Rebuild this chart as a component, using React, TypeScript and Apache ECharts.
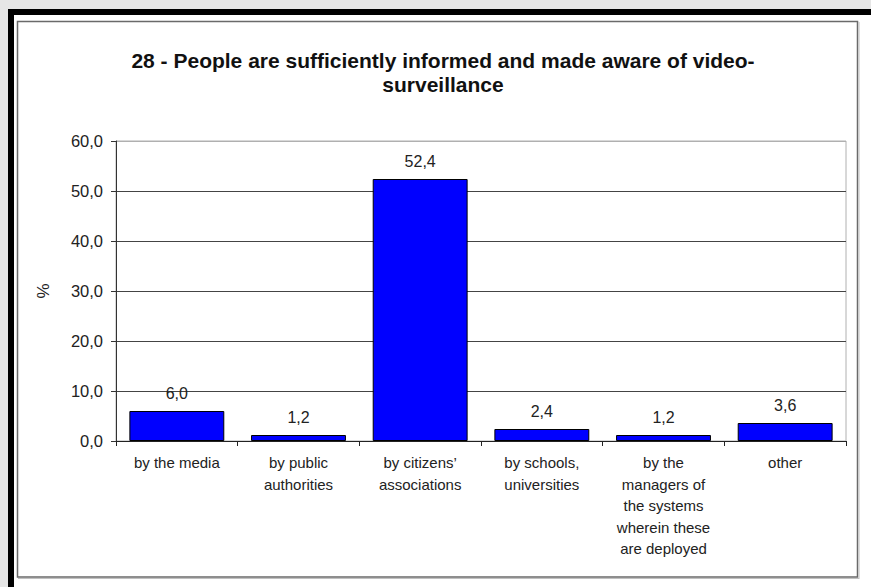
import React, { useEffect, useRef } from "react";
import * as echarts from "echarts";

const categories = [
  "by the media",
  "by public\nauthorities",
  "by citizens’\nassociations",
  "by schools,\nuniversities",
  "by the\nmanagers of\nthe systems\nwherein these\nare deployed",
  "other",
];
const values = [6.0, 1.2, 52.4, 2.4, 1.2, 3.6];
const titleText = "28 - People are sufficiently informed and made aware of video-\nsurveillance";
const yAxisName = "%";

const FONT = "'Liberation Sans', Arial, Helvetica, sans-serif";
const fmt = (v: number) => v.toFixed(1).replace(".", ",");

export default function App() {
  const ref = useRef<HTMLDivElement>(null);
  useEffect(() => {
    if (!ref.current) return;
    const chart = echarts.init(ref.current, undefined, { renderer: "svg" });
    chart.setOption({
      animation: false,
      backgroundColor: "#ffffff",
      textStyle: { fontFamily: FONT },
      title: {
        text: titleText,
        left: 438,
        textAlign: "center",
        top: 43,
        textStyle: {
          fontFamily: FONT,
          fontSize: 21,
          fontWeight: "bold",
          color: "#111",
          lineHeight: 24,
        },
      },
      graphic: [
        { type: "rect", shape: { x: 0, y: 0, width: 871, height: 9 }, style: { fill: "#e6e6e6" }, silent: true },
        { type: "rect", shape: { x: 0, y: 0, width: 8, height: 587 }, style: { fill: "#e6e6e6" }, silent: true },
        { type: "rect", shape: { x: 8, y: 9, width: 863, height: 6 }, style: { fill: "#000" }, silent: true },
        { type: "rect", shape: { x: 8, y: 9, width: 6, height: 578 }, style: { fill: "#000" }, silent: true },
        { type: "rect", shape: { x: 17.5, y: 21.5, width: 840, height: 555.5 }, style: { fill: "none", stroke: "#6a6a6a", lineWidth: 1.5 }, silent: true },
        { type: "line", shape: { x1: 18, y1: 578.5, x2: 859, y2: 578.5 }, style: { stroke: "#c0c0c0", lineWidth: 1 }, silent: true },
        { type: "line", shape: { x1: 859, y1: 22, x2: 859, y2: 579 }, style: { stroke: "#c0c0c0", lineWidth: 1 }, silent: true },
      ],
      grid: {
        left: 116,
        top: 141,
        right: 25,
        bottom: 146,
        show: true,
        borderColor: "#b0b0b0",
        borderWidth: 1,
        backgroundColor: "transparent",
      },
      xAxis: {
        type: "category",
        data: categories,
        boundaryGap: true,
        axisLine: { lineStyle: { color: "#222", width: 1 } },
        axisTick: { show: true, length: 5, lineStyle: { color: "#222" } },
        axisLabel: {
          interval: 0,
          margin: 11,
          fontSize: 15,
          lineHeight: 21.5,
          color: "#222",
          fontFamily: FONT,
        },
      },
      yAxis: {
        type: "value",
        min: 0,
        max: 60,
        interval: 10,
        name: yAxisName,
        nameLocation: "middle",
        nameRotate: 90,
        nameGap: 64,
        nameTextStyle: { fontSize: 17, color: "#222", fontFamily: FONT },
        axisLine: { show: true, lineStyle: { color: "#333", width: 1 } },
        axisTick: { show: true, length: 5, lineStyle: { color: "#333" } },
        axisLabel: {
          formatter: (v: number) => fmt(v),
          fontSize: 16.5,
          margin: 13,
          color: "#222",
          fontFamily: FONT,
        },
        splitLine: {
          show: true,
          lineStyle: {
            color: ["#444", "#444", "#444", "#444", "#444", "#444", "#b0b0b0"],
            width: 1,
          },
        },
      },
      series: [
        {
          type: "bar",
          data: values,
          barCategoryGap: "22%",
          itemStyle: { color: "#0000ff", borderColor: "#000", borderWidth: 1 },
          label: {
            show: true,
            position: "top",
            distance: 10,
            formatter: (p: any) => fmt(p.value),
            fontSize: 16,
            color: "#222",
            fontFamily: FONT,
          },
        },
      ],
    });
    return () => chart.dispose();
  }, []);
  return (
    <div
      ref={ref}
      style={{ position: "absolute", left: 0, top: 0, width: 871, height: 587 }}
    />
  );
}
